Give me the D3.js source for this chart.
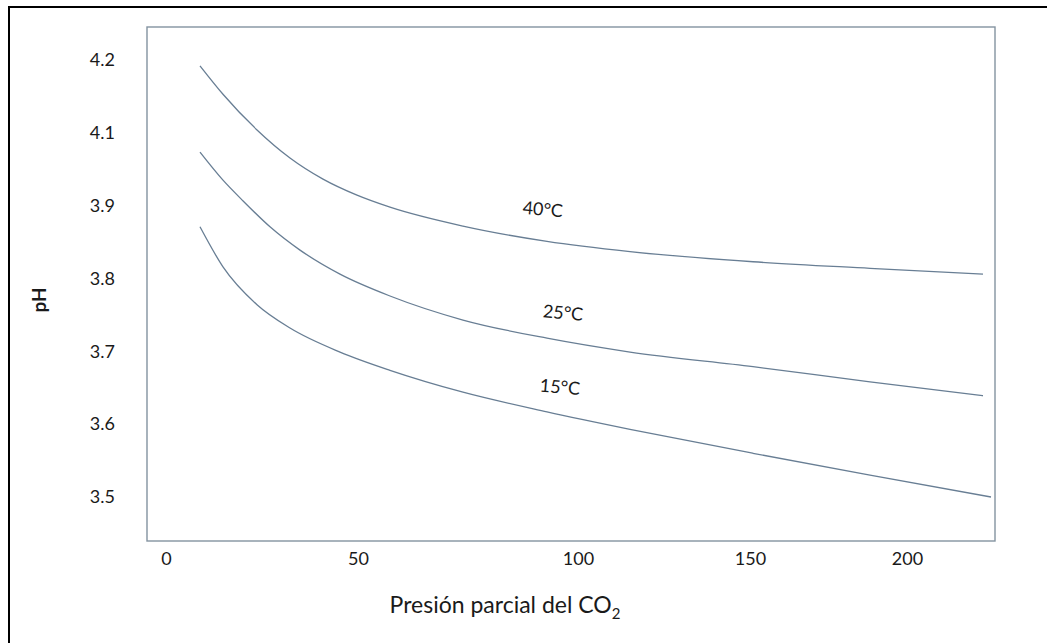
<!DOCTYPE html>
<html>
<head>
<meta charset="utf-8">
<script src="https://cdn.jsdelivr.net/npm/d3@7/dist/d3.min.js"></script>
<style>
  html, body { margin: 0; padding: 0; background: #ffffff; }
  svg { display: block; }
  text { font-family: Lato, "Open Sans", "DejaVu Sans", sans-serif; fill: #1a1a1a; }
</style>
</head>
<body>
<svg id="chart" width="1047" height="643"></svg>
<script>
// ---- data ----
const xTickValues = [0, 50, 100, 150, 200];
const yTickValues = [4.2, 4.1, 3.9, 3.8, 3.7, 3.6, 3.5];
const yTickLabels = ["4.2", "4.1", "3.9", "3.8", "3.7", "3.6", "3.5"];

const series40x = [8.85, 14.84, 23.70, 32.29, 40.89, 49.74, 57.27, 73.86, 92.95, 115.12, 150.96, 188.22, 224.20];
const series40y = [4.192, 4.153, 4.104, 4.031, 3.973, 3.929, 3.898, 3.872, 3.851, 3.837, 3.823, 3.814, 3.806];

const series25x = [8.85, 14.84, 19.79, 27.08, 34.90, 45.31, 57.27, 73.86, 92.95, 115.12, 150.96, 188.22, 224.20];
const series25y = [4.047, 3.970, 3.916, 3.871, 3.839, 3.806, 3.776, 3.743, 3.718, 3.699, 3.679, 3.658, 3.639];

const series15x = [8.85, 14.84, 23.70, 32.29, 45.31, 57.27, 73.86, 92.95, 115.12, 150.96, 188.22, 226.75];
const series15y = [3.871, 3.816, 3.764, 3.732, 3.699, 3.674, 3.644, 3.617, 3.593, 3.560, 3.530, 3.500];

const seriesNames = ["40°C", "25°C", "15°C"];
const labelX = [92, 96.6, 95.9];
const labelY = [3.895, 3.753, 3.651];

// ---- layout ----
const svg = d3.select("#chart");
const plot = { left: 147, top: 27, right: 995, bottom: 541 };

// The printed axes are not uniformly spaced; use piecewise-linear scales
const x = d3.scaleLinear()
  .domain(xTickValues)
  .range([166, 358, 578, 750, 907]);

const yDomain = yTickValues.slice().reverse(); // ascending
const yStep = (497 - 60) / (yDomain.length - 1);
const y = d3.scaleLinear()
  .domain(yDomain)
  .range(yDomain.map((d, i) => 497 - i * yStep));

// outer frame
svg.append("rect")
  .attr("x", 9).attr("y", 7)
  .attr("width", 1100).attr("height", 700)
  .attr("fill", "none")
  .attr("stroke", "#000")
  .attr("stroke-width", 2);

// plot box
svg.append("rect")
  .attr("x", plot.left).attr("y", plot.top)
  .attr("width", plot.right - plot.left)
  .attr("height", plot.bottom - plot.top)
  .attr("fill", "none")
  .attr("stroke", "#8393a0")
  .attr("stroke-width", 1.4);

// axes
const yAxis = d3.axisLeft(y)
  .tickValues(yTickValues)
  .tickFormat((d, i) => yTickLabels[i])
  .tickSize(0)
  .tickPadding(32);
const gy = svg.append("g").attr("transform", `translate(${plot.left},0)`).call(yAxis);
gy.select(".domain").remove();
gy.selectAll("text").style("font-size", "18px").attr("fill", "#1a1a1a")
  .style("font-family", "Lato, 'Open Sans', sans-serif");

const xAxis = d3.axisBottom(x)
  .tickValues(xTickValues)
  .tickFormat(d3.format("d"))
  .tickSize(0)
  .tickPadding(11);
const gx = svg.append("g").attr("transform", `translate(0,${plot.bottom})`).call(xAxis);
gx.select(".domain").remove();
gx.selectAll("text").style("font-size", "18px").attr("fill", "#1a1a1a")
  .style("font-family", "Lato, 'Open Sans', sans-serif");

// axis titles
svg.append("text")
  .attr("transform", "translate(46,300) rotate(-90)")
  .attr("text-anchor", "middle")
  .style("font-size", "19px")
  .style("font-weight", "bold")
  .text("pH");

const xt = svg.append("text")
  .attr("x", 505).attr("y", 613)
  .attr("text-anchor", "middle")
  .style("font-size", "23px");
xt.append("tspan").text("Presión parcial del CO");
xt.append("tspan").attr("dy", 6).style("font-size", "15px").text("2");

// curves
const line = d3.line()
  .x(d => x(d[0]))
  .y(d => y(d[1]))
  .curve(d3.curveMonotoneX);

const allSeries = [
  d3.zip(series40x, series40y),
  d3.zip(series25x, series25y),
  d3.zip(series15x, series15y)
];

svg.selectAll("path.curve")
  .data(allSeries)
  .join("path")
  .attr("class", "curve")
  .attr("d", line)
  .attr("fill", "none")
  .attr("stroke", "#687e94")
  .attr("stroke-width", 1.3);

// curve labels (slightly tilted, as in the picture)
svg.selectAll("text.lbl")
  .data(seriesNames)
  .join("text")
  .attr("class", "lbl")
  .attr("transform", (d, i) => `translate(${x(labelX[i])},${y(labelY[i])}) rotate(5)`)
  .attr("dy", "0.35em")
  .attr("text-anchor", "middle")
  .style("font-size", "18px")
  .text(d => d);
</script>
</body>
</html>
